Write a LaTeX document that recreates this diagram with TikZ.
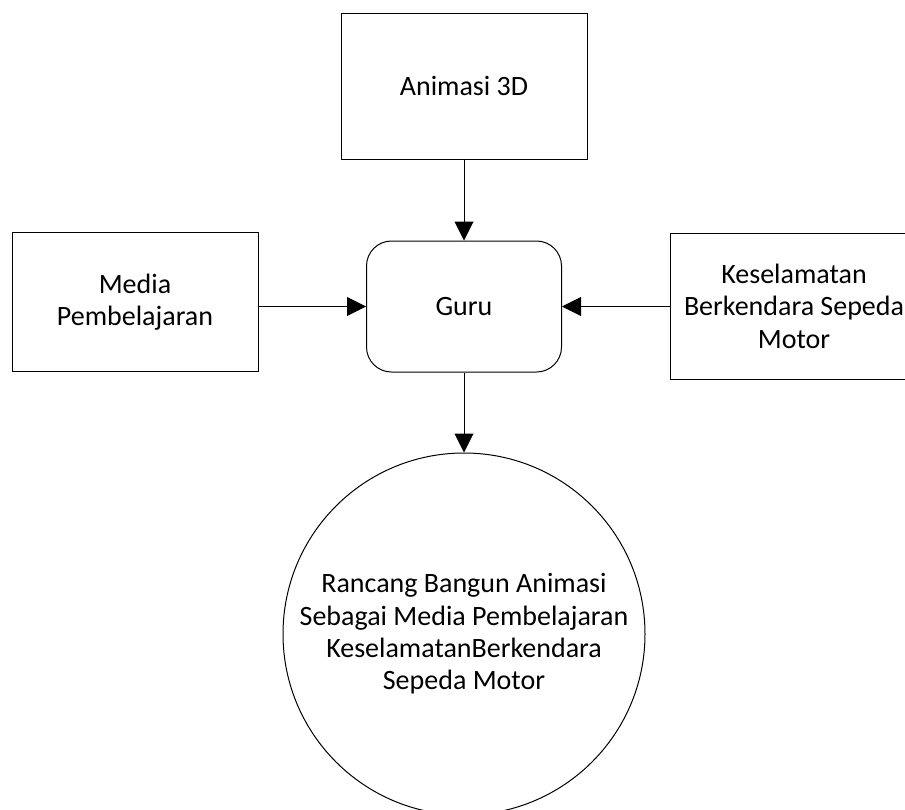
\documentclass[tikz,border=0pt]{standalone}
\usepackage{fontspec}
\setmainfont{Carlito}
\usetikzlibrary{arrows.meta}

\begin{document}
\begin{tikzpicture}[x=0.5pt, y=-0.5pt, every node/.style={draw, line width=0.5pt, align=center, inner sep=0pt, font=\fontsize{14}{16.2}\selectfont},%
        kotak/.style={rectangle, minimum width=123pt, minimum height=73pt}, proses/.style={rectangle, rounded corners=12.5pt, minimum width=97.5pt, minimum height=65.5pt},%
        hasil/.style={circle, minimum size=181pt}, panah/.style={line width=0.5pt, -{Triangle[length=9.5pt, width=9.5pt]}}]
        \useasboundingbox (0,0) rectangle (905,809);
        \clip (0,0) rectangle (905,809);
        \node[kotak] (animasi) at (464,86) {Animasi 3D};
        \node[kotak, minimum height=69.5pt] (media) at (135,302) {Media\\Pembelajaran};
        \node[proses] (guru) at (464,306.5) {Guru};
        \node[kotak, minimum width=124pt] (keselamatan) at (794,306) {Keselamatan\\Berkendara Sepeda\\Motor};
        \node[hasil] (rancang) at (464,634) {Rancang Bangun Animasi\\Sebagai Media Pembelajaran\\KeselamatanBerkendara\\Sepeda Motor};
        \draw[panah] (animasi) -- (guru);
        \draw[panah] (media.east |- guru.west) -- (guru.west);
        \draw[panah] (keselamatan.west |- guru.east) -- (guru.east);
        \draw[panah] (guru) -- (rancang);
    \end{tikzpicture}
\end{document}
